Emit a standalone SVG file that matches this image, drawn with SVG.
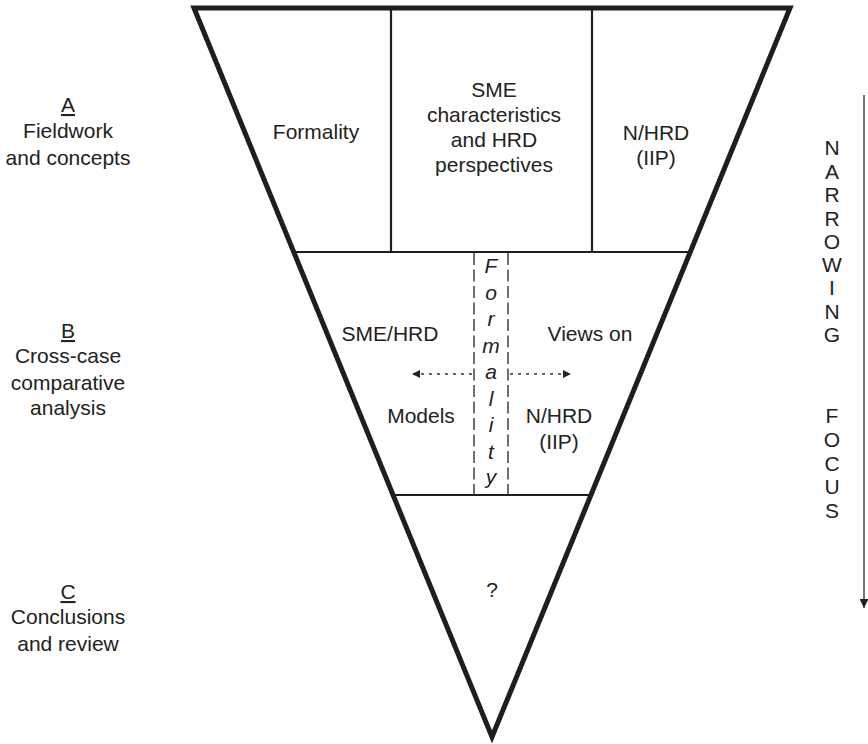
<svg xmlns="http://www.w3.org/2000/svg" width="868" height="744" viewBox="0 0 868 744">
  <defs>
    <style>
      text { font-family: "Liberation Sans", Arial, sans-serif; font-size: 21px; fill: #222; text-anchor: middle; }
      .ital { font-style: italic; }
      .ul { text-decoration: underline; }
      .frame { fill: none; stroke: #1e1e1e; stroke-width: 5; stroke-linejoin: miter; stroke-miterlimit: 10; }
      .div { fill: none; stroke: #1e1e1e; stroke-width: 2.2; }
      .dash { fill: none; stroke: #333; stroke-width: 1.4; stroke-dasharray: 12 4.5; }
      .dot { fill: none; stroke: #333; stroke-width: 1.5; stroke-dasharray: 3 5; }
      .focus { fill: none; stroke: #555; stroke-width: 1.6; }
    </style>
    <marker id="head" viewBox="0 0 10 10" refX="10" refY="5" markerWidth="11" markerHeight="8" markerUnits="userSpaceOnUse" orient="auto">
      <path d="M0,0 L10,5 L0,10 Z" fill="#222"/>
    </marker>
    <marker id="headDown" viewBox="0 0 10 10" refX="10" refY="5" markerWidth="11" markerHeight="9" markerUnits="userSpaceOnUse" orient="auto">
      <path d="M0,0 L10,5 L0,10 Z" fill="#222"/>
    </marker>
  </defs>

  <!-- Stage labels on the left -->
  <g id="label-a">
    <text x="68" y="112" class="ul">A</text>
    <text x="68" y="138">Fieldwork</text>
    <text x="68" y="165">and concepts</text>
  </g>
  <g id="label-b">
    <text x="68" y="338" class="ul">B</text>
    <text x="68" y="363">Cross-case</text>
    <text x="68" y="390">comparative</text>
    <text x="68" y="415">analysis</text>
  </g>
  <g id="label-c">
    <text x="68" y="599" class="ul">C</text>
    <text x="68" y="624">Conclusions</text>
    <text x="68" y="651">and review</text>
  </g>

  <!-- Inverted triangle outline and inner divisions -->
  <g id="funnel">
    <polygon class="frame" points="194,8 790,8 492,737"/>
    <line class="div" x1="292" y1="252" x2="690" y2="252"/>
    <line class="div" x1="391" y1="8" x2="391" y2="252"/>
    <line class="div" x1="592" y1="8" x2="592" y2="252"/>
    <line class="div" x1="393" y1="495" x2="591" y2="495"/>
  </g>

  <!-- Top tier -->
  <g id="cell-formality">
    <text x="316" y="139">Formality</text>
  </g>
  <g id="cell-sme">
    <text x="494" y="97">SME</text>
    <text x="494" y="122">characteristics</text>
    <text x="494" y="147">and HRD</text>
    <text x="494" y="172">perspectives</text>
  </g>
  <g id="cell-nhrd">
    <text x="656" y="140">N/HRD</text>
    <text x="656" y="165">(IIP)</text>
  </g>

  <!-- Middle tier -->
  <g id="formality-column">
    <line class="dash" x1="474" y1="253" x2="474" y2="494"/>
    <line class="dash" x1="508" y1="253" x2="508" y2="494"/>
    <text class="ital" x="491" y="273">F</text>
    <text class="ital" x="491" y="299.5">o</text>
    <text class="ital" x="491" y="326">r</text>
    <text class="ital" x="491" y="352.5">m</text>
    <text class="ital" x="491" y="379">a</text>
    <text class="ital" x="491" y="405.5">l</text>
    <text class="ital" x="491" y="432">i</text>
    <text class="ital" x="491" y="458.5">t</text>
    <text class="ital" x="491" y="484">y</text>
  </g>
  <g id="cell-sme-hrd-models">
    <text x="390" y="341">SME/HRD</text>
    <text x="421" y="423">Models</text>
  </g>
  <g id="cell-views">
    <text x="590" y="341">Views on</text>
    <text x="559" y="423">N/HRD</text>
    <text x="559" y="449">(IIP)</text>
  </g>

  <!-- Bottom tier -->
  <g id="cell-question">
    <text x="492" y="597">?</text>
  </g>

  <!-- Connectors -->
  <g id="connectors">
    <line class="dot" x1="472" y1="374" x2="412" y2="374" marker-end="url(#head)"/>
    <line class="dot" x1="510" y1="374" x2="571" y2="374" marker-end="url(#head)"/>
    <line class="focus" x1="864" y1="95" x2="864" y2="608" marker-end="url(#headDown)"/>
  </g>

  <!-- Narrowing focus caption -->
  <g id="narrowing-focus">
    <text x="832" y="155">N</text>
    <text x="832" y="178.5">A</text>
    <text x="832" y="202">R</text>
    <text x="832" y="225.5">R</text>
    <text x="832" y="249">O</text>
    <text x="832" y="272">W</text>
    <text x="832" y="295">I</text>
    <text x="832" y="318.5">N</text>
    <text x="832" y="342">G</text>
    <text x="832" y="423">F</text>
    <text x="832" y="447">O</text>
    <text x="832" y="471">C</text>
    <text x="832" y="494">U</text>
    <text x="832" y="518">S</text>
  </g>
</svg>
